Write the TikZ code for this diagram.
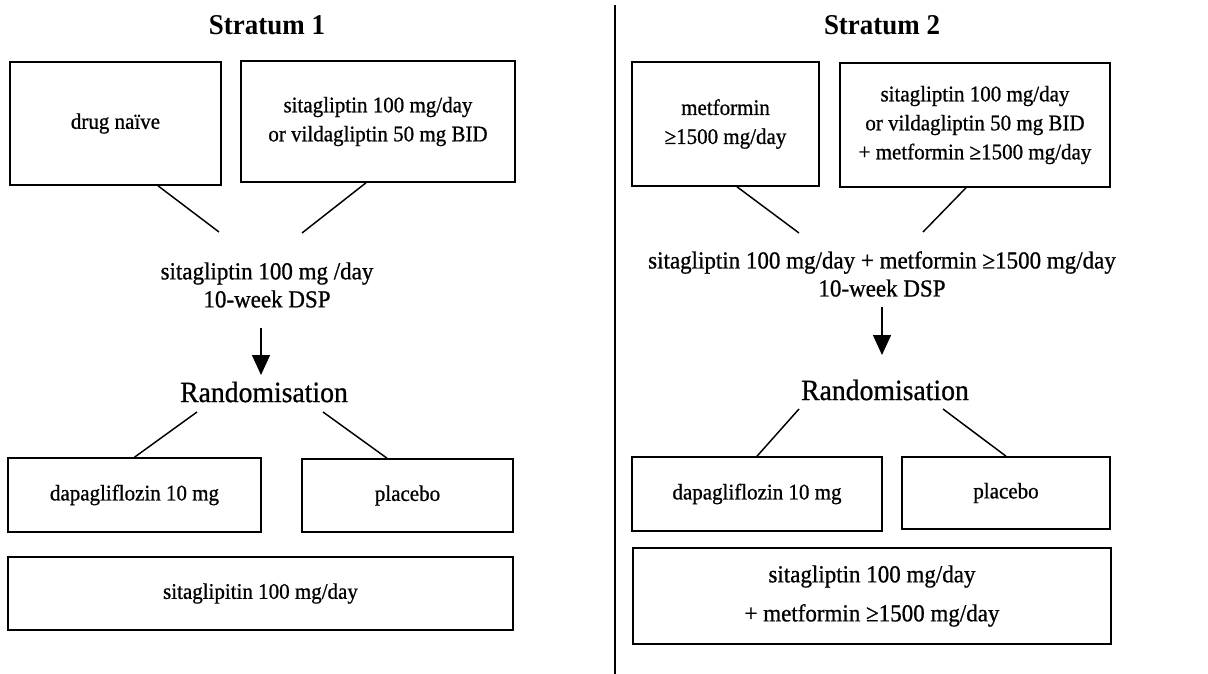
\documentclass[tikz,border=0pt]{standalone}
\usepackage{fontspec}
\setmainfont{Liberation Serif}[FakeStretch = 0.94, UprightFeatures = {FakeBold = 0.8}]
\usetikzlibrary{arrows.meta,calc}
\newdimen\pxu
\pxu=0.75pt

\begin{document}
\begin{tikzpicture}[
                    x = 0.75pt, y = -0.75pt,
                    every node/.append style = {align = center, inner sep = 0pt},
                    boxnode/.style = {draw, line width = 1.2pt, font = \fontsize{16.75}{21.75}\selectfont},
                    midtext/.style = {font = \fontsize{18.35}{21}\selectfont},
                    randtext/.style = {font = \fontsize{22.1}{24}\selectfont},
                    headtext/.style = {font = \fontsize{21.5}{24}\selectfont\bfseries},
                    joinline/.style = {line width = 1.1pt},
                    downarrow/.style = {line width = 1.1pt, -{Triangle[width = 13.5pt, length = 15pt]}}]
                \useasboundingbox (0,0) rectangle (1208,674);
                \draw[line width = 1.5pt] (615,5) -- (615,674);
                % stratum 1
                \node[headtext] (hd1) at (267,25) {Stratum 1};
                \node[boxnode, minimum width = 211\pxu, minimum height = 123\pxu] (naive) at (115.5,123.5) {drug naïve};
                \node[boxnode, minimum width = 274\pxu, minimum height = 121\pxu] (dpp1) at (378,121.5) {sitagliptin 100 mg/day\\or vildagliptin 50 mg BID};
                \node[midtext] (dsp1) at (267,285) {sitagliptin 100 mg /day\\10-week DSP};
                \node[randtext] (rnd1) at (264,392) {Randomisation};
                \node[boxnode, minimum width = 253\pxu, minimum height = 74\pxu] (dapa1) at (134.5,495) {dapagliflozin 10 mg};
                \node[boxnode, minimum width = 211\pxu, minimum height = 73\pxu] (plc1) at (407.5,495.5) {placebo};
                \node[boxnode, minimum width = 505\pxu, minimum height = 73\pxu] (bg1) at (260.5,593.5) {sitaglipitin 100 mg/day};
                \draw[joinline] ($(naive.south)+(42.5,0)$) -- ($(dsp1.center)+(-48,-53)$);
                \draw[joinline] ($(dpp1.south)+(-12,0)$) -- ($(dsp1.center)+(35,-52)$);
                \draw[downarrow] ($(dsp1.center)+(-6,43)$) -- ($(rnd1.center)+(-3,-17)$);
                \draw[joinline] ($(rnd1.center)+(-67,20)$) -- (dapa1.north);
                \draw[joinline] ($(rnd1.center)+(59,20)$) -- ($(plc1.north)+(-20.5,0)$);
                % stratum 2
                \node[headtext] (hd2) at (882,25) {Stratum 2};
                \node[boxnode, minimum width = 187\pxu, minimum height = 124\pxu] (metf) at (725.5,124) {metformin\\≥1500 mg/day};
                \node[boxnode, minimum width = 270\pxu, minimum height = 124\pxu] (dpp2) at (975,125) {sitagliptin 100 mg/day\\or vildagliptin 50 mg BID\\+ metformin ≥1500 mg/day};
                \node[midtext] (dsp2) at (882,274) {sitagliptin 100 mg/day + metformin ≥1500 mg/day\\10-week DSP};
                \node[randtext] (rnd2) at (885,390) {Randomisation};
                \node[boxnode, minimum width = 250\pxu, minimum height = 74\pxu] (dapa2) at (757,494) {dapagliflozin 10 mg};
                \node[boxnode, minimum width = 208\pxu, minimum height = 72\pxu] (plc2) at (1006,493) {placebo};
                \node[boxnode, minimum width = 478\pxu, minimum height = 96\pxu,
                      font = \fontsize{18.35}{29.25}\selectfont] (bg2) at (872,596) {sitagliptin 100 mg/day\\+ metformin ≥1500 mg/day};
                \draw[joinline] ($(metf.south)+(11.5,0)$) -- ($(dsp2.center)+(-83,-41)$);
                \draw[joinline] ($(dpp2.south)+(-9,0)$) -- ($(dsp2.center)+(41,-42)$);
                \draw[downarrow] ($(dsp2.center)+(0,33)$) -- ($(rnd2.center)+(-3,-35)$);
                \draw[joinline] ($(rnd2.center)+(-86,19)$) -- (dapa2.north);
                \draw[joinline] ($(rnd2.center)+(58,19)$) -- (plc2.north);
                \end{tikzpicture}
\end{document}
